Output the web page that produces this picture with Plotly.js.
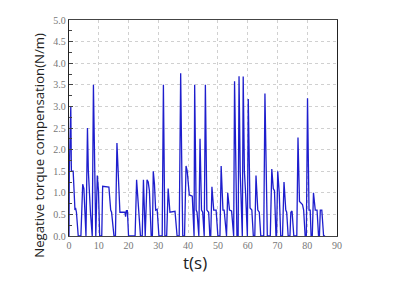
<!DOCTYPE html>
<html>
<head>
<meta charset="utf-8">
<script src="https://cdn.plot.ly/plotly-3.0.1.min.js"></script>
<style>html,body{margin:0;padding:0;background:#fff;}#chart{width:399px;height:281px;}</style>
</head>
<body>
<div id="chart"></div>
<script>
// time (s)
var t = [0, 0.1, 0.6, 0.8, 1.4, 2.0, 2.2, 2.5, 3.1,
  4.0, 4.6, 5.0, 5.5,
  5.7, 6.2, 6.5, 7.2, 7.6,
  7.8, 8.2, 8.9,
  9.0, 9.5, 9.9, 10.3,
  11.0, 11.3, 13.4, 14.0, 14.3, 15.1,
  15.6, 16.1, 17.1, 18.8, 19.0, 19.3, 19.5, 19.6, 20.0,
  22.2, 22.7, 24.0,
  24.6, 25.0, 25.6, 26.2, 26.6, 27.0, 27.6,
  28.0, 28.3, 28.7, 29.1, 29.6, 30.2,
  31.3, 31.7, 32.2,
  32.8, 33.3, 33.9, 35.6, 36.3,
  37.0, 37.5, 37.9, 38.2,
  38.8, 39.3, 39.7, 40.4, 41.4, 42.0,
  42.2, 42.7, 43.0, 43.4,
  43.6, 44.0, 44.5, 44.9, 45.3,
  45.4, 45.8, 46.3, 46.9, 47.3,
  47.6, 48.0, 48.6, 49.4, 50.0,
  50.7, 51.1, 51.7, 52.1, 52.7,
  52.9, 53.3, 53.9, 54.6, 55.1,
  55.3, 55.6, 56.0, 56.4,
  56.8, 57.1, 57.5, 58.0,
  58.2, 58.5, 58.9, 59.3, 59.7,
  59.9, 60.2, 60.5, 60.8, 61.4, 61.9,
  62.4, 62.8, 63.4, 63.9, 64.4,
  65.4, 65.8, 66.6,
  67.6, 68.1, 68.6, 69.0, 69.5,
  69.7, 70.1, 70.6, 71.1,
  71.7, 72.2, 72.8, 73.1, 73.6,
  74.2, 74.5, 74.9, 75.5,
  76.5, 76.9, 77.4, 78.4, 78.8, 79.3,
  79.7, 80.1, 80.6, 81.0, 81.3,
  81.7, 82.1, 82.7, 83.3, 83.8,
  84.1, 84.4, 84.9, 85.5, 86.0];
// negative torque compensation (N/m)
var torque = [0, 1.5, 3.0, 1.5, 1.5, 0.6, 0.65, 0.55, 0,
  0, 1.2, 1.1, 0,
  0, 2.5, 1.5, 0.55, 0,
  0, 3.5, 0,
  0, 1.4, 1.05, 0,
  0, 1.15, 1.13, 0.6, 0.55, 0,
  0, 2.15, 0.55, 0.55, 0.45, 0.6, 0.55, 0.6, 0,
  0, 1.3, 0,
  0, 1.3, 0, 1.3, 1.25, 1.05, 0,
  0, 1.5, 1.2, 0.6, 0.62, 0,
  0, 3.5, 0,
  0, 1.1, 0.55, 0.57, 0,
  0, 3.77, 1.45, 0,
  0, 1.62, 1.5, 0.95, 0.92, 0,
  3.5, 0.6, 0.55, 0,
  0, 2.25, 0.6, 0.55, 0,
  0, 3.5, 0.6, 0.55, 0,
  0, 1.14, 0.6, 0.6, 0,
  0, 1.62, 0.6, 0.6, 0,
  0, 1.0, 0.6, 0.58, 0,
  0, 3.58, 1.5, 0,
  0, 3.7, 1.48, 0,
  0, 3.69, 1.5, 1.0, 0,
  0, 3.17, 1.0, 0.65, 0.6, 0,
  0, 1.4, 0.6, 0.55, 0,
  0, 3.3, 0,
  0, 1.55, 1.1, 1.05, 0,
  0, 1.5, 1.0, 0,
  0, 1.25, 0.6, 0.55, 0,
  0, 0.55, 0.58, 0,
  0, 2.28, 0.8, 0.73, 0.6, 0,
  0, 3.19, 0.6, 0.6, 0,
  0, 1.0, 0.6, 0.6, 0,
  0, 0.6, 0.6, 0, 0];

var xTitle = 't(s)';
var yTitle = 'Negative torque compensation(N/m)';

var tickFont = {family: 'Liberation Serif, DejaVu Serif, serif', size: 10, color: '#777'};
var titleFontFamily = 'Open Sans, sans-serif';

var data = [{
  x: t, y: torque, type: 'scatter', mode: 'lines',
  line: {color: 'rgb(30,30,205)', width: 1.3},
  hoverinfo: 'skip'
}];

var layout = {
  width: 399, height: 281,
  margin: {l: 69, r: 62, t: 20, b: 45},
  paper_bgcolor: '#fff', plot_bgcolor: '#fff',
  showlegend: false,
  xaxis: {
    range: [0, 90], dtick: 10, tick0: 0,
    showgrid: true, gridcolor: '#d0d0d0', griddash: 'dot', gridwidth: 1,
    zeroline: false,
    showline: true, linecolor: '#444', linewidth: 1, mirror: true,
    ticks: '', tickfont: tickFont
  },
  yaxis: {
    range: [0, 5], dtick: 0.5, tick0: 0, tickformat: '.1f',
    showgrid: true, gridcolor: '#d0d0d0', griddash: 'dot', gridwidth: 1,
    zeroline: false,
    showline: true, linecolor: '#222', linewidth: 1.3, mirror: true,
    ticks: 'inside', ticklen: 4, tickcolor: '#444',
    minor: {dtick: 0.25, ticks: 'inside', ticklen: 3, tickcolor: '#444', showgrid: false},
    tickfont: tickFont
  },
  annotations: [
    {text: xTitle, xref: 'paper', yref: 'paper', x: 0.47, y: -0.062,
     xanchor: 'center', yanchor: 'top', showarrow: false,
     font: {family: titleFontFamily, size: 17, color: '#222'}},
    {text: yTitle, xref: 'paper', yref: 'paper', x: -0.11, y: 0.42,
     xanchor: 'center', yanchor: 'middle', textangle: -90, showarrow: false,
     font: {family: titleFontFamily, size: 13.2, color: '#222'}}
  ]
};

Plotly.newPlot('chart', data, layout, {staticPlot: true, displayModeBar: false});
</script>
</body>
</html>
